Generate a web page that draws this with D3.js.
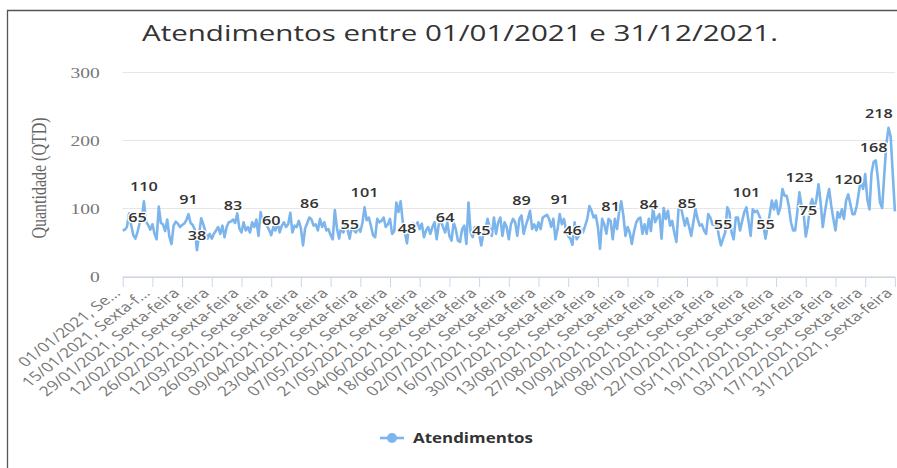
<!DOCTYPE html>
<html>
<head>
<meta charset="utf-8">
<script src="https://cdn.jsdelivr.net/npm/d3@7"></script>
<style>
  body { margin: 0; background: #fff; }
  svg { display: block; }
</style>
</head>
<body>
<div id="chart"></div>
<script>
// daily counts, one row per 14 days, 01/01/2021 .. 31/12/2021
var values = [
  67, 68, 72, 92, 75, 60, 55, 65, 78, 85, 110, 80, 75, 68,
  76, 62, 54, 102, 78, 76, 66, 83, 58, 47, 74, 80, 77, 72,
  75, 77, 82, 91, 78, 75, 68, 38, 60, 85, 76, 65, 55, 62,
  55, 62, 67, 72, 62, 74, 57, 72, 79, 80, 83, 78, 92, 70,
  64, 79, 67, 72, 64, 79, 72, 83, 59, 94, 79, 84, 74, 68,
  60, 72, 67, 79, 64, 74, 79, 72, 76, 93, 64, 74, 72, 81,
  70, 45, 70, 78, 86, 83, 74, 76, 67, 84, 72, 79, 67, 69,
  60, 54, 97, 70, 55, 72, 64, 76, 68, 55, 74, 67, 64, 72,
  65, 78, 101, 82, 86, 74, 60, 57, 84, 79, 81, 86, 72, 76,
  84, 62, 66, 108, 94, 110, 80, 64, 48, 74, 67, 77, 72, 79,
  69, 77, 57, 67, 72, 62, 72, 79, 54, 76, 81, 72, 64, 79,
  59, 52, 79, 69, 52, 50, 69, 74, 47, 108, 64, 57, 72, 67,
  62, 45, 62, 69, 84, 72, 59, 86, 62, 79, 86, 59, 79, 72,
  54, 76, 84, 79, 59, 84, 89, 62, 74, 84, 96, 69, 76, 67,
  79, 69, 86, 88, 90, 84, 72, 84, 54, 69, 91, 76, 84, 67,
  59, 55, 46, 79, 54, 59, 69, 64, 74, 84, 103, 96, 86, 89,
  72, 40, 84, 76, 62, 84, 81, 54, 84, 69, 94, 110, 89, 59,
  72, 64, 47, 65, 78, 84, 86, 62, 76, 62, 84, 66, 101, 79,
  86, 91, 55, 100, 84, 96, 74, 81, 64, 50, 98, 103, 89, 74,
  85, 72, 59, 79, 99, 84, 74, 76, 67, 62, 91, 86, 76, 74,
  79, 59, 45, 55, 64, 101, 94, 64, 54, 86, 86, 67, 81, 94,
  101, 81, 59, 98, 94, 96, 89, 81, 74, 55, 74, 91, 111, 98,
  111, 91, 101, 128, 118, 118, 103, 79, 67, 67, 94, 123, 103, 91,
  58, 75, 103, 113, 98, 113, 135, 108, 72, 94, 113, 128, 103, 84,
  67, 94, 86, 98, 84, 111, 120, 106, 91, 91, 103, 123, 143, 128,
  150, 113, 98, 152, 168, 170, 143, 108, 100, 150, 195, 218, 205, 150,
  95
];

var tickLabels = [
  "01/01/2021, Se...", "15/01/2021, Sexta-f...", "29/01/2021, Sexta-feira",
  "12/02/2021, Sexta-feira", "26/02/2021, Sexta-feira", "12/03/2021, Sexta-feira",
  "26/03/2021, Sexta-feira", "09/04/2021, Sexta-feira", "23/04/2021, Sexta-feira",
  "07/05/2021, Sexta-feira", "21/05/2021, Sexta-feira", "04/06/2021, Sexta-feira",
  "18/06/2021, Sexta-feira", "02/07/2021, Sexta-feira", "16/07/2021, Sexta-feira",
  "30/07/2021, Sexta-feira", "13/08/2021, Sexta-feira", "27/08/2021, Sexta-feira",
  "10/09/2021, Sexta-feira", "24/09/2021, Sexta-feira", "08/10/2021, Sexta-feira",
  "22/10/2021, Sexta-feira", "05/11/2021, Sexta-feira", "19/11/2021, Sexta-feira",
  "03/12/2021, Sexta-feira", "17/12/2021, Sexta-feira", "31/12/2021, Sexta-feira"
];
var tickStep = 14;

// days whose value label survived overlap hiding in the original
var labelDays = [7, 10, 31, 35, 52, 70, 88, 107, 114, 134, 152, 169, 188,
  206, 212, 230, 248, 266, 283, 294, 303, 319, 323, 342, 354, 361];

var yTicks = [0, 100, 200, 300];
var seriesName = "Atendimentos";
var chartTitle = "Atendimentos entre 01/01/2021 e 31/12/2021.";
var yTitle = "Quantidade (QTD)";

(function() {
  var W = 897, H = 468;
  var SX = 1.3; // the picture is a horizontally stretched screenshot
  var LINE = "#7cb5ec";
  var plot = { left: 122.7, right: 894.9, top: 72, bottom: 276 };

  var svg = d3.select("#chart").append("svg")
    .attr("width", W).attr("height", H);

  // frame (left and top edges visible)
  svg.append("path")
    .attr("d", "M7.5," + H + "V10.5H" + W)
    .attr("fill", "none").attr("stroke", "#555").attr("stroke-width", 1.3);

  // title
  svg.append("text")
    .attr("x", 460).attr("y", 41)
    .attr("text-anchor", "middle")
    .attr("textLength", 636).attr("lengthAdjust", "spacingAndGlyphs")
    .style("font-family", "'Open Sans', sans-serif")
    .style("font-size", "21px")
    .style("fill", "#333")
    .text(chartTitle);

  var x = d3.scaleLinear().domain([0, values.length - 1]).range([plot.left, plot.right]);
  var y = d3.scaleLinear().domain([0, 300]).range([plot.bottom, plot.top]);

  // grid + y labels
  var yAxis = svg.append("g")
    .attr("transform", "translate(" + plot.left + ",0)")
    .call(d3.axisLeft(y).tickValues(yTicks).tickSize(-(plot.right - plot.left)).tickPadding(0));
  yAxis.select(".domain").remove();
  yAxis.selectAll("line").attr("stroke", "#e6e6e6");
  yAxis.selectAll("text")
    .attr("x", 0).attr("dy", 0)
    .attr("text-anchor", "end")
    .attr("transform", "translate(-23,5) scale(" + SX + ",1)")
    .style("font-family", "'Liberation Serif', serif")
    .style("font-size", "15px")
    .style("fill", "#777");

  svg.append("text")
    .attr("transform", "translate(46,178) scale(" + SX + ",1) rotate(-90)")
    .attr("text-anchor", "middle")
    .style("font-family", "'Liberation Serif', serif")
    .style("font-size", "16px")
    .style("fill", "#666")
    .text(yTitle);

  // x axis
  var xAxis = svg.append("g")
    .attr("transform", "translate(0," + (plot.bottom + 1) + ")")
    .call(d3.axisBottom(x)
      .tickValues(d3.range(0, values.length, tickStep))
      .tickSize(10)
      .tickFormat(function(d, i) { return tickLabels[i]; }));
  xAxis.select(".domain").attr("stroke", "#ccd6eb").attr("d", "M" + plot.left + ",0.5H" + plot.right);
  xAxis.selectAll("line").attr("stroke", "#ccd6eb");
  xAxis.selectAll("text")
    .attr("y", 0).attr("dy", 0)
    .attr("text-anchor", "end")
    .attr("transform", "translate(-2,17) scale(" + SX + ",1) rotate(-45)")
    .style("font-family", "'Open Sans', sans-serif")
    .style("font-size", "13.5px")
    .style("fill", "#777");

  // series line
  var line = d3.line()
    .x(function(d, i) { return x(i); })
    .y(function(d) { return y(d); });
  svg.append("path")
    .datum(values)
    .attr("d", line)
    .attr("fill", "none")
    .attr("stroke", LINE)
    .attr("stroke-width", 2.6)
    .attr("stroke-linejoin", "round");

  // data labels
  var lbl = svg.append("g").selectAll("text")
    .data(labelDays)
    .enter().append("text")
    .attr("text-anchor", "middle")
    .style("font-family", "'Open Sans', sans-serif")
    .style("font-size", "12.5px")
    .style("font-weight", 600)
    .style("fill", "#333")
    .style("stroke", "#fff").style("stroke-width", 2.5)
    .style("paint-order", "stroke")
    .attr("stroke-linejoin", "round")
    .text(function(d) { return values[d]; });
  lbl.attr("transform", function(d) {
    var w = this.getComputedTextLength() * SX;
    var cx = x(d);
    if (cx + w / 2 > plot.right) cx = plot.right - w / 2 - 2;
    return "translate(" + cx + "," + (y(values[d]) - 10) + ") scale(" + SX + ",1)";
  });

  // legend
  var lg = svg.append("g").attr("transform", "translate(380,438)");
  lg.append("line").attr("x1", 0).attr("x2", 24).attr("stroke", LINE).attr("stroke-width", 2.6);
  lg.append("circle").attr("cx", 12).attr("r", 5).attr("fill", LINE);
  lg.append("text")
    .attr("x", 33).attr("y", 5)
    .attr("textLength", 120).attr("lengthAdjust", "spacingAndGlyphs")
    .style("font-family", "'Open Sans', sans-serif")
    .style("font-size", "13.5px")
    .style("font-weight", 700)
    .style("fill", "#333")
    .text(seriesName);
})();
</script>
</body>
</html>
